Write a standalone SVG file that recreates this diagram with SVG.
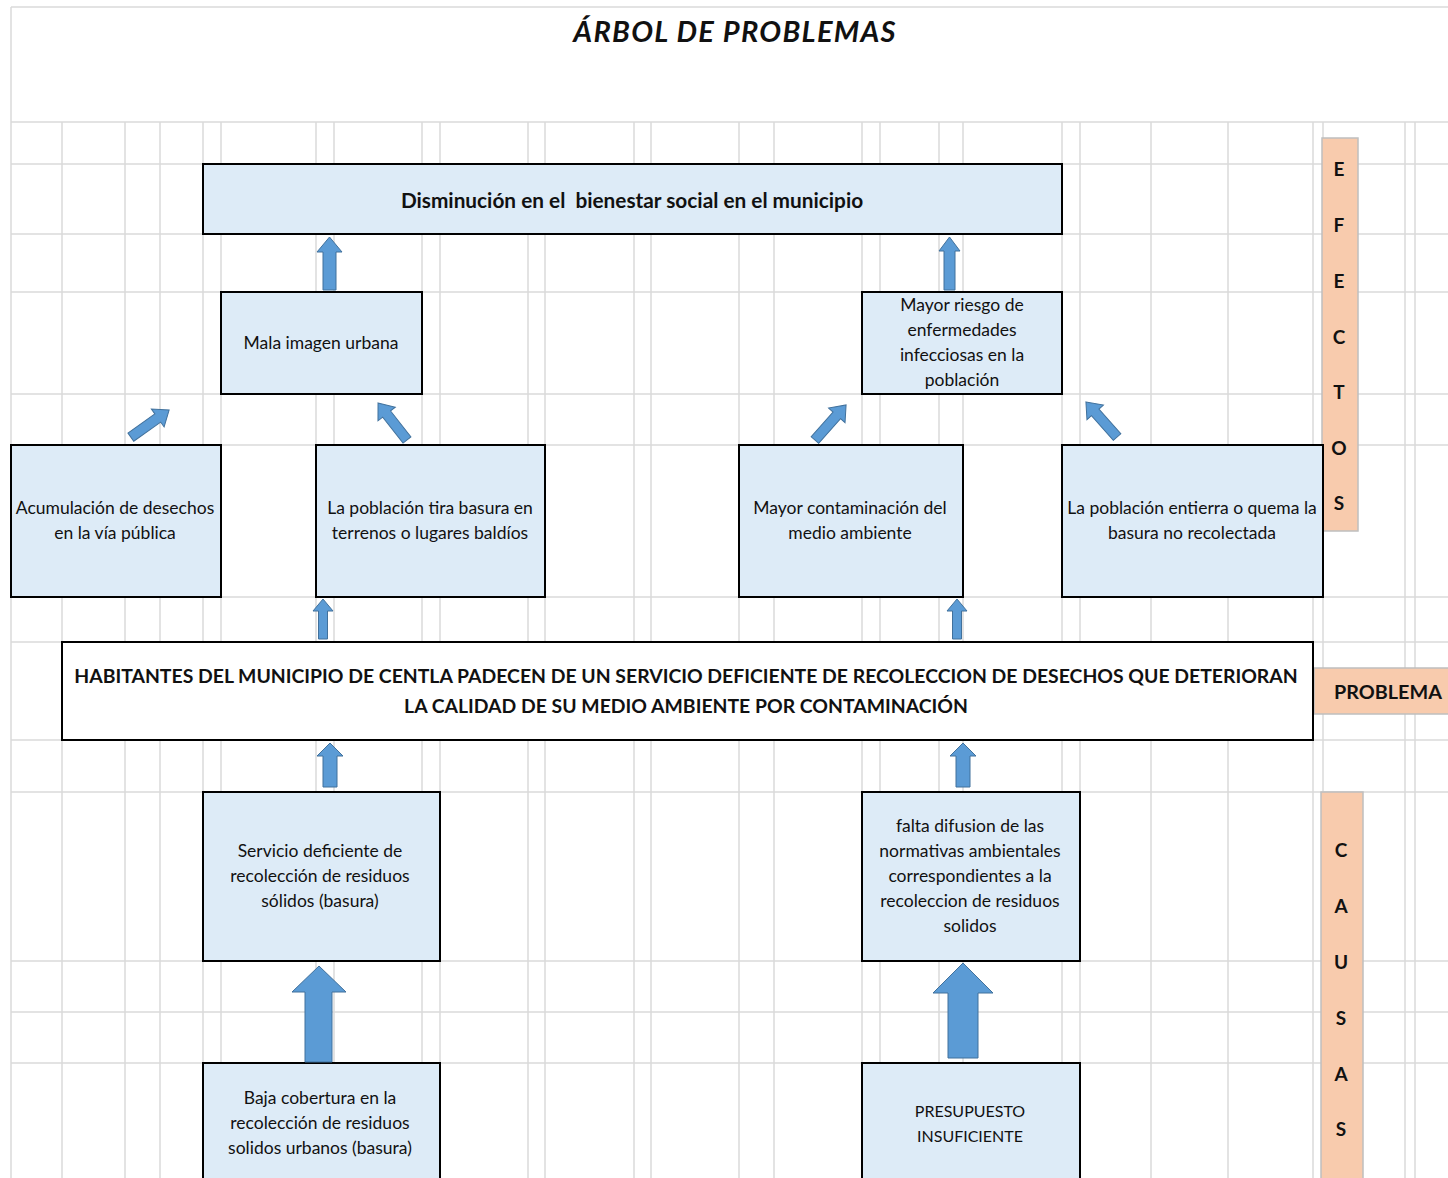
<svg xmlns="http://www.w3.org/2000/svg" width="1448" height="1178" viewBox="0 0 1448 1178">
<style>
.grid line{stroke:#dadada;stroke-width:1.5}
.box{fill:#ddebf7;stroke:#000;stroke-width:2}
.pbox{fill:#fff;stroke:#000;stroke-width:2}
.lab{fill:#f8cbad;stroke:#bfbfbf;stroke-width:1.5}
.t{font-family:Lato,"Liberation Sans",sans-serif;font-size:17.5px;fill:#111;text-anchor:middle;dominant-baseline:central}
.b{font-weight:bold;font-size:19.4px}
.l{font-weight:bold;font-size:19px}
.arr{fill:#5b9bd5;stroke:#41719c;stroke-width:1}
</style>
<rect x="0" y="0" width="1448" height="1178" fill="#fff"/>
<g class="grid">
<line x1="11" y1="7" x2="1448" y2="7"/>
<line x1="11" y1="7" x2="11" y2="1178"/>
<line x1="11" y1="122" x2="1448" y2="122"/>
<line x1="11" y1="164" x2="1448" y2="164"/>
<line x1="11" y1="234" x2="1448" y2="234"/>
<line x1="11" y1="292" x2="1448" y2="292"/>
<line x1="11" y1="394" x2="1448" y2="394"/>
<line x1="11" y1="445" x2="1448" y2="445"/>
<line x1="11" y1="597" x2="1448" y2="597"/>
<line x1="11" y1="642" x2="1448" y2="642"/>
<line x1="11" y1="740" x2="1448" y2="740"/>
<line x1="11" y1="792" x2="1448" y2="792"/>
<line x1="11" y1="961" x2="1448" y2="961"/>
<line x1="11" y1="1012" x2="1448" y2="1012"/>
<line x1="11" y1="1063" x2="1448" y2="1063"/>
<line x1="62" y1="122" x2="62" y2="1178"/>
<line x1="125" y1="122" x2="125" y2="1178"/>
<line x1="160" y1="122" x2="160" y2="1178"/>
<line x1="203" y1="122" x2="203" y2="1178"/>
<line x1="221" y1="122" x2="221" y2="1178"/>
<line x1="316" y1="122" x2="316" y2="1178"/>
<line x1="334" y1="122" x2="334" y2="1178"/>
<line x1="422" y1="122" x2="422" y2="1178"/>
<line x1="440" y1="122" x2="440" y2="1178"/>
<line x1="528" y1="122" x2="528" y2="1178"/>
<line x1="545" y1="122" x2="545" y2="1178"/>
<line x1="634" y1="122" x2="634" y2="1178"/>
<line x1="651" y1="122" x2="651" y2="1178"/>
<line x1="739" y1="122" x2="739" y2="1178"/>
<line x1="774" y1="122" x2="774" y2="1178"/>
<line x1="862" y1="122" x2="862" y2="1178"/>
<line x1="880" y1="122" x2="880" y2="1178"/>
<line x1="939" y1="122" x2="939" y2="1178"/>
<line x1="963" y1="122" x2="963" y2="1178"/>
<line x1="1062" y1="122" x2="1062" y2="1178"/>
<line x1="1080" y1="122" x2="1080" y2="1178"/>
<line x1="1151" y1="122" x2="1151" y2="1178"/>
<line x1="1228" y1="122" x2="1228" y2="1178"/>
<line x1="1313" y1="122" x2="1313" y2="1178"/>
<line x1="1323" y1="122" x2="1323" y2="1178"/>
<line x1="1405" y1="122" x2="1405" y2="1178"/>
<line x1="1415" y1="122" x2="1415" y2="1178"/>
</g>
<text x="735" y="30.5" class="t" style="font-weight:bold;font-style:italic;font-size:29px;letter-spacing:1.3px">ÁRBOL DE PROBLEMAS</text>
<g id="efectos">
<rect class="lab" x="1322" y="138" width="36" height="393"/>
<text class="t l" x="1339" y="168">E</text>
<text class="t l" x="1339" y="224">F</text>
<text class="t l" x="1339" y="280">E</text>
<text class="t l" x="1339" y="336">C</text>
<text class="t l" x="1339" y="391">T</text>
<text class="t l" x="1339" y="447">O</text>
<text class="t l" x="1339" y="502">S</text>
</g>
<g id="problema-label">
<rect class="lab" x="1314" y="668" width="140" height="46"/>
<text class="t b" x="1388" y="691" style="font-size:19.8px">PROBLEMA</text>
</g>
<g id="causas">
<rect class="lab" x="1321" y="792" width="42" height="400"/>
<text class="t l" x="1341" y="849">C</text>
<text class="t l" x="1341" y="905">A</text>
<text class="t l" x="1341" y="961">U</text>
<text class="t l" x="1341" y="1017">S</text>
<text class="t l" x="1341" y="1073">A</text>
<text class="t l" x="1341" y="1128">S</text>
</g>
<g id="n-bienestar">
<rect class="box" x="203" y="164" width="859" height="70"/>
<text class="t b" x="632" y="199.5" style="font-size:20.8px" xml:space="preserve">Disminución en el  bienestar social en el municipio</text>
</g>
<g id="n-mala-imagen">
<rect class="box" x="221" y="292" width="201" height="102"/>
<text class="t" x="321" y="342.5">Mala imagen urbana</text>
</g>
<g id="n-riesgo">
<rect class="box" x="862" y="292" width="200" height="102"/>
<text class="t" x="962" y="304.5">Mayor riesgo de</text>
<text class="t" x="962" y="329.5">enfermedades</text>
<text class="t" x="962" y="354.5">infecciosas en la</text>
<text class="t" x="962" y="379.5">población</text>
</g>
<g id="n-acumulacion">
<rect class="box" x="11" y="445" width="210" height="152"/>
<text class="t" x="115" y="507.5">Acumulación de desechos</text>
<text class="t" x="115" y="532.5">en la vía pública</text>
</g>
<g id="n-tira-basura">
<rect class="box" x="316" y="445" width="229" height="152"/>
<text class="t" x="430" y="507.5">La población tira basura en</text>
<text class="t" x="430" y="532.5">terrenos o lugares baldíos</text>
</g>
<g id="n-contaminacion">
<rect class="box" x="739" y="445" width="224" height="152"/>
<text class="t" x="850" y="507.5">Mayor contaminación del</text>
<text class="t" x="850" y="532.5">medio ambiente</text>
</g>
<g id="n-entierra">
<rect class="box" x="1062" y="445" width="261" height="152"/>
<text class="t" x="1192" y="507.5">La población entierra o quema la</text>
<text class="t" x="1192" y="532.5">basura no recolectada</text>
</g>
<g id="n-problema">
<rect class="pbox" x="62" y="642" width="1251" height="98"/>
<text class="t b" x="686" y="675.5">HABITANTES DEL MUNICIPIO DE CENTLA PADECEN DE UN SERVICIO DEFICIENTE DE RECOLECCION DE DESECHOS QUE DETERIORAN</text>
<text class="t b" x="686" y="705.5">LA CALIDAD DE SU MEDIO AMBIENTE POR CONTAMINACIÓN</text>
</g>
<g id="n-servicio">
<rect class="box" x="203" y="792" width="237" height="169"/>
<text class="t" x="320" y="850.5">Servicio deficiente de</text>
<text class="t" x="320" y="875.5">recolección de residuos</text>
<text class="t" x="320" y="900.5">sólidos (basura)</text>
</g>
<g id="n-difusion">
<rect class="box" x="862" y="792" width="218" height="169"/>
<text class="t" x="970" y="825.5">falta difusion de las</text>
<text class="t" x="970" y="850.5">normativas ambientales</text>
<text class="t" x="970" y="875.5">correspondientes a la</text>
<text class="t" x="970" y="900.5">recoleccion de residuos</text>
<text class="t" x="970" y="925.5">solidos</text>
</g>
<g id="n-cobertura">
<rect class="box" x="203" y="1063" width="237" height="130"/>
<text class="t" x="320" y="1097.5">Baja cobertura en la</text>
<text class="t" x="320" y="1122.5">recolección de residuos</text>
<text class="t" x="320" y="1147.5">solidos urbanos (basura)</text>
</g>
<g id="n-presupuesto">
<rect class="box" x="862" y="1063" width="218" height="130"/>
<text class="t" x="970" y="1110.5" style="font-size:16px">PRESUPUESTO</text>
<text class="t" x="970" y="1135.5" style="font-size:16px">INSUFICIENTE</text>
</g>
<g id="connectors">
<path class="arr" d="M329.5,237 L342,252 L336,252 L336,290 L323,290 L323,252 L317,252 Z"/>
<path class="arr" d="M949.5,237 L960,251 L955,251 L955,290 L944,290 L944,251 L939,251 Z"/>
<path class="arr" transform="translate(150,423.5) rotate(54.6)" d="M0,-23.5 L11,-9.5 L5,-9.5 L5,23.5 L-5,23.5 L-5,-9.5 L-11,-9.5 Z"/>
<path class="arr" transform="translate(392.5,421.5) rotate(-38)" d="M0,-23.5 L11,-9.5 L5,-9.5 L5,23.5 L-5,23.5 L-5,-9.5 L-11,-9.5 Z"/>
<path class="arr" transform="translate(830.5,422.5) rotate(41.5)" d="M0,-23.5 L11,-9.5 L5,-9.5 L5,23.5 L-5,23.5 L-5,-9.5 L-11,-9.5 Z"/>
<path class="arr" transform="translate(1101.5,419.5) rotate(-41.5)" d="M0,-23.5 L11,-9.5 L5,-9.5 L5,23.5 L-5,23.5 L-5,-9.5 L-11,-9.5 Z"/>
<path class="arr" d="M323,599 L333,611 L327.5,611 L327.5,639 L318.5,639 L318.5,611 L313,611 Z"/>
<path class="arr" d="M957,599 L967,611 L961.5,611 L961.5,639 L952.5,639 L952.5,611 L947,611 Z"/>
<path class="arr" d="M330,743 L343,756 L337,756 L337,787 L323,787 L323,756 L317,756 Z"/>
<path class="arr" d="M963,743 L976,756 L970,756 L970,787 L956,787 L956,756 L950,756 Z"/>
<path class="arr" d="M319,966 L346,992 L332,992 L332,1062 L305,1062 L305,992 L292,992 Z"/>
<path class="arr" d="M963,963 L993,993 L978,993 L978,1058 L948,1058 L948,993 L933,993 Z"/>
</g>
</svg>
